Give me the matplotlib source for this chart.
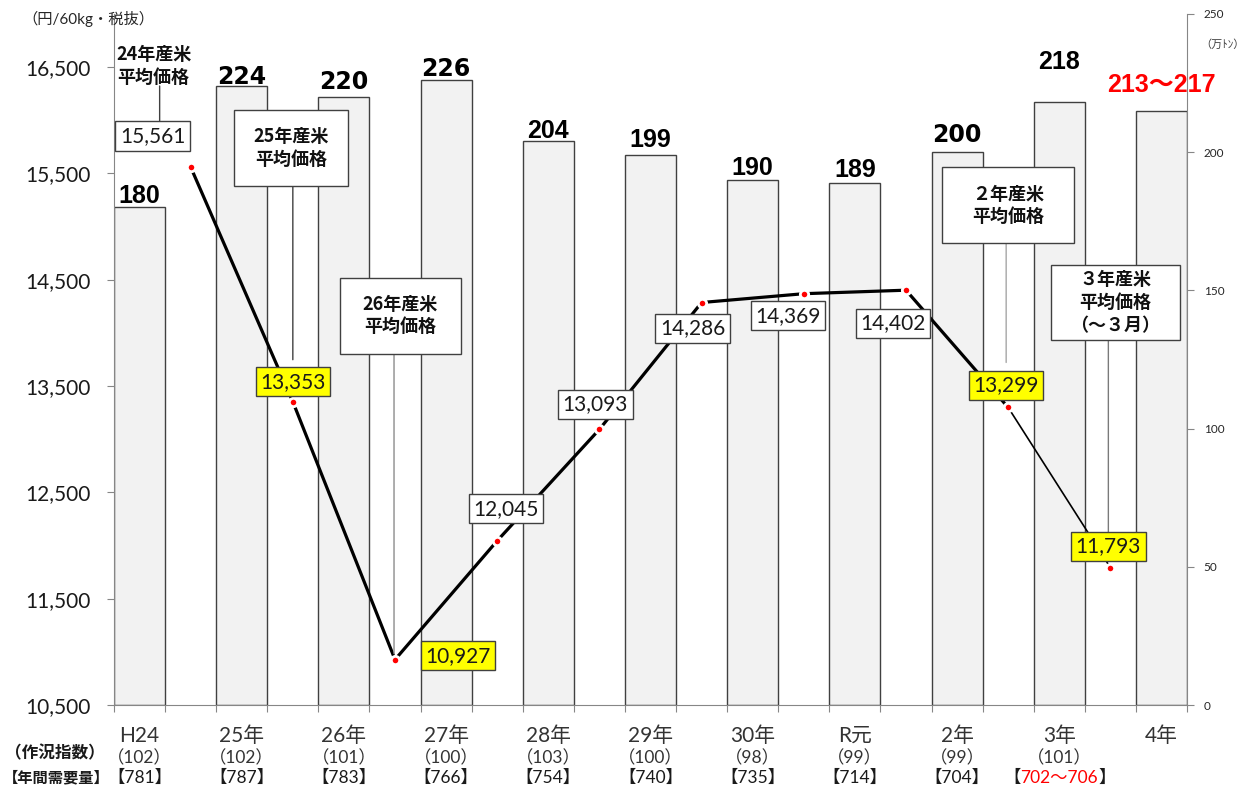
import matplotlib
matplotlib.use('Agg')
import matplotlib.pyplot as plt
import numpy as np
from matplotlib.transforms import IdentityTransform, offset_copy
from matplotlib.patches import Rectangle
from matplotlib.offsetbox import TextArea, HPacker, AnnotationBbox

# ---------------- data ----------------
categories = ['H24', '25年', '26年', '27年', '28年', '29年', '30年', 'R元', '2年', '3年', '4年']
crop_index = ['（102）', '（102）', '（101）', '（100）', '（103）', '（100）', '（98）', '（99）', '（99）', '（101）', '']
demand = ['【781】', '【787】', '【783】', '【766】', '【754】', '【740】', '【735】', '【714】', '【704】', '【702～706】', '']
production = [180, 224, 220, 226, 204, 199, 190, 189, 200, 218, 215]
production_labels = ['180', '224', '220', '226', '204', '199', '190', '189', '200', '218', '213～217']
price = [15561, 13353, 10927, 12045, 13093, 14286, 14369, 14402, 13299, 11793]
price_labels = ['15,561', '13,353', '10,927', '12,045', '13,093', '14,286', '14,369', '14,402', '13,299', '11,793']
callout_texts = ['24年産米\n平均価格', '25年産米\n平均価格', '26年産米\n平均価格', '２年産米\n平均価格', '３年産米\n平均価格\n（～３月）']
left_ticks = [10500, 11500, 12500, 13500, 14500, 15500, 16500]
right_ticks = [0, 50, 100, 150, 200, 250]

# ---------------- styles / positions ----------------
W, H = 1243, 793
L, R, T, B = 114, 1187, 14, 705
CJK = 'Noto Sans CJK JP'
LAT = ['Lato', CJK, 'DejaVu Sans']

fig = plt.figure(figsize=(W / 100, H / 100), dpi=100)
ax1 = fig.add_axes([L / W, 1 - B / H, (R - L) / W, (B - T) / H])
ax2 = ax1.twinx()
ax1.set_zorder(2)
ax2.set_zorder(1)
ax1.patch.set_visible(False)

n_bar = len(categories)
bar_x = np.arange(n_bar) * 2 + 0.5
line_x = np.arange(len(price)) * 2 + 1.5

# bars (right axis)
ax2.bar(bar_x, production, width=1.0, color='#F2F2F2', edgecolor='#404040', linewidth=1.0, zorder=2)
ax2.set_ylim(0, 250)
ax2.set_yticks(right_ticks)
ax2.set_yticklabels([str(v) for v in right_ticks], fontsize=8.5, family=LAT, color='#262626')
ax2.tick_params(axis='y', direction='out', length=5, width=0.8, color='#868686', pad=7)
for s in ['top', 'left', 'bottom']:
    ax2.spines[s].set_visible(False)
ax2.spines['right'].set_color('#868686')

ax1.set_xlim(0, 21)
ax1.set_ylim(10500, 17000)
ax1.set_yticks(left_ticks)
ax1.set_yticklabels([f'{v:,}' for v in left_ticks], fontsize=15, family=LAT, color='#1a1a1a')
ax1.tick_params(axis='y', direction='out', length=5, width=0.8, color='#868686', pad=12)
ax1.set_xticks(np.arange(0, 22))
ax1.set_xticklabels([])
ax1.tick_params(axis='x', direction='out', length=5, width=0.8, color='#868686')
for s in ['top', 'right']:
    ax1.spines[s].set_visible(False)
ax1.spines['left'].set_color('#868686')
ax1.spines['bottom'].set_color('#868686')

# bar value labels
bar_gap = [4, 2, 8, 4, 3, 8, 5, 6, 10, 33, 19]
for i, lab in enumerate(production_labels):
    heavy = lab in ('224', '220', '226', '200')
    col = 'red' if i == n_bar - 1 else 'black'
    ax2.annotate(lab, xy=(bar_x[i], production[i]), xytext=(0, bar_gap[i]), textcoords='offset pixels',
                 ha='center', va='baseline', fontsize=17 if heavy else 18, fontweight='bold', color=col,
                 family=(['DejaVu Sans', CJK] if heavy else ['Liberation Sans', CJK]), zorder=5,
                 annotation_clip=False)

# price line (left axis)
ax1.plot(line_x[:9], price[:9], color='black', lw=2.3, zorder=3, solid_capstyle='butt')
ax1.plot(line_x[8:], price[8:], color='black', lw=1.2, zorder=3, solid_capstyle='butt')
ax1.plot(line_x, price, 'o', ms=6, mfc='red', mec='white', mew=2.0, zorder=4)

# price labels (offsets in pixels relative to their point)
lab_off = [(-38, 31), (0, 20), (63, 4), (9, 32), (-4, 25), (-9, -26), (-16, -22), (-13, -33), (-2, 22), (-2, 21)]
yellow = [1, 2, 8, 9]
for i, lab in enumerate(price_labels):
    fc = '#FFFF00' if i in yellow else 'white'
    ax1.annotate(lab, xy=(line_x[i], price[i]), xytext=lab_off[i], textcoords='offset pixels',
                 ha='center', va='center', fontsize=15, family=LAT, color='#1a1a1a', zorder=7,
                 bbox=dict(boxstyle='square,pad=0.22', fc=fc, ec='#404040', lw=1.0),
                 annotation_clip=False)


def off(dx, dy):
    return offset_copy(ax1.transData, fig=fig, x=dx, y=dy, units='dots')


def leader(i, dx, dy1, dy2, color, lw=1.0):
    p = (line_x[i], price[i])
    ax1.annotate('', xy=p, xycoords=off(dx, dy2), xytext=p, textcoords=off(dx, dy1),
                 arrowprops=dict(arrowstyle='-', color=color, lw=lw, shrinkA=0, shrinkB=0),
                 zorder=5, annotation_clip=False)


# callouts: (point index, dx, dy, box w, box h, leader dx, leader from, leader to, leader colour)
callouts = [
    (0, -37, 101, None, None, -31, 81, 46, '#404040'),
    (1, -2, 254, 114, 76, 0, 216, 42, '#404040'),
    (2, 5, 344, 121, 76, -1, 306, 6, '#8c8c8c'),
    (8, 0, 202, 132, 76, -2, 165, 45, '#a6a6a6'),
    (9, 5, 265, 129, 75, -2, 228, 32, '#7a7a7a'),
]
for k, (i, dx, dy, w, h, ldx, l1, l2, lc) in enumerate(callouts):
    leader(i, ldx, l1, l2, lc)
    if w is not None:
        px, py = ax1.transData.transform((line_x[i], price[i]))
        rect = Rectangle((px + dx - w / 2, py + dy - h / 2), w, h, transform=IdentityTransform(),
                         fc='white', ec='#404040', lw=1.0, zorder=6, clip_on=False)
        ax1.add_artist(rect)
    ax1.annotate(callout_texts[k], xy=(line_x[i], price[i]), xytext=(dx, dy), textcoords='offset pixels',
                 ha='center', va='center', multialignment='center', linespacing=1.25,
                 fontsize=13, fontweight='bold', family=[CJK], color='#111111', zorder=7,
                 annotation_clip=False)

# category labels under the axis
xt = ax1.get_xaxis_transform()
for i in range(n_bar):
    ax1.annotate(categories[i], xy=(bar_x[i], 0), xycoords=xt, xytext=(0, -31), textcoords='offset pixels',
                 ha='center', va='center', fontsize=15, family=LAT, color='#333333', annotation_clip=False)
    if crop_index[i]:
        ax1.annotate(crop_index[i], xy=(bar_x[i], 0), xycoords=xt, xytext=(0, -53), textcoords='offset pixels',
                     ha='center', va='center', fontsize=12.5, family=LAT, color='#333333',
                     annotation_clip=False)
    if demand[i] and i != 9:
        ax1.annotate(demand[i], xy=(bar_x[i], 0), xycoords=xt, xytext=(0, -73), textcoords='offset pixels',
                     ha='center', va='center', fontsize=12.5, family=LAT, color='#1a1a1a',
                     annotation_clip=False)

# red demand range for 3年
inner = demand[9][1:-1]
tp = dict(fontsize=12.5, family=LAT)
hp = HPacker(children=[TextArea('【', textprops=dict(color='#1a1a1a', **tp)),
                       TextArea(inner, textprops=dict(color='red', **tp)),
                       TextArea('】', textprops=dict(color='#1a1a1a', **tp))],
             pad=0, sep=0, align='baseline')
ab = AnnotationBbox(hp, (bar_x[9], 0), xycoords=xt, xybox=(0, -73), boxcoords='offset pixels',
                    frameon=False, box_alignment=(0.5, 0.5), pad=0, annotation_clip=False)
ax1.add_artist(ab)

# row titles and axis units
fig.text(55 / W, 1 - 753 / H, '（作況指数）', fontsize=12, fontweight='bold', family=[CJK],
         ha='center', va='center', color='#1a1a1a')
fig.text(3 / W, 1 - 777 / H, '【年間需要量】', fontsize=11, fontweight='bold', family=[CJK],
         ha='left', va='center', color='#1a1a1a')
fig.text(22 / W, 1 - 19 / H, '（円/60kg・税抜）', fontsize=11, family=LAT,
         ha='left', va='center', color='#262626')
fig.text(1200 / W, 1 - 45 / H, '（万ﾄﾝ）', fontsize=8, family=[CJK],
         ha='left', va='center', color='#404040')

fig.savefig('out.png', dpi=100)
